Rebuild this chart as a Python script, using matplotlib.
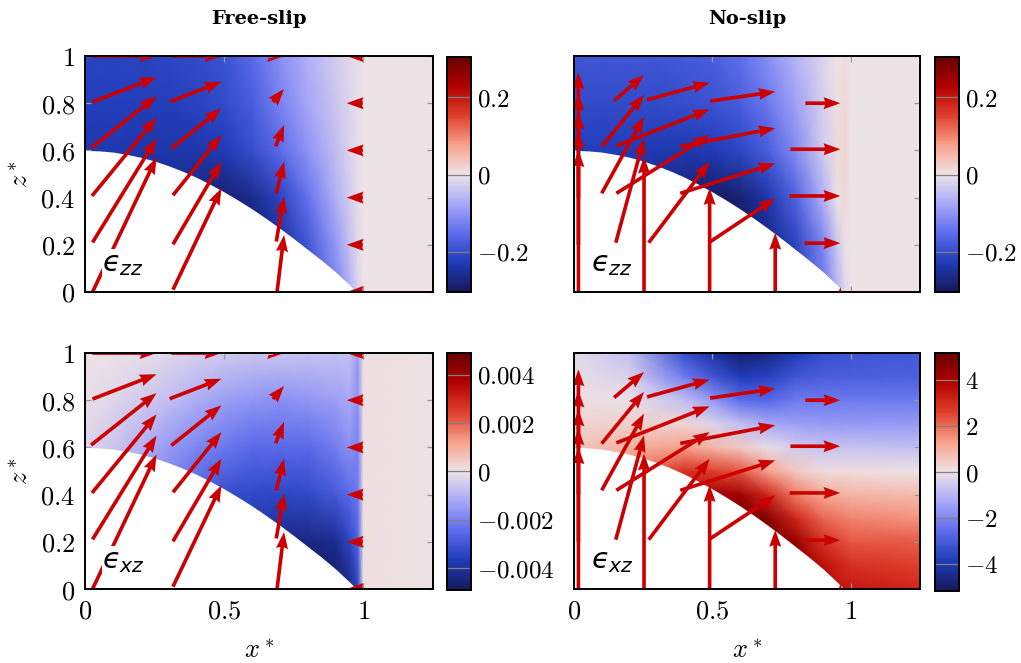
import numpy as np
import matplotlib.pyplot as plt
from matplotlib.colors import LinearSegmentedColormap

plt.rcParams['mathtext.fontset'] = 'cm'
plt.rcParams['font.family'] = 'DejaVu Serif'

# bed profile (white region below it)
bed_x = [0.0, 0.05, 0.1, 0.15, 0.2, 0.25, 0.3, 0.35, 0.4, 0.45, 0.5,
         0.55, 0.6, 0.65, 0.7, 0.75, 0.8, 0.85, 0.9, 0.95, 0.975]
bed_z = [0.600, 0.598, 0.593, 0.583, 0.571, 0.555, 0.535, 0.512, 0.486, 0.456, 0.424,
         0.389, 0.352, 0.312, 0.270, 0.226, 0.180, 0.134, 0.085, 0.030, 0.0]

# free-slip grid nodes (also used for no-slip ezz)
fs_x = [0, 0.1, 0.2, 0.3, 0.4, 0.5, 0.6, 0.7, 0.8, 0.9, 0.95, 0.98, 1.0, 1.25]
fs_z = [0, 0.2, 0.4, 0.6, 0.8, 1.0]

ezz_free = [
    [-.24, -.24, -.246, -.255, -.276, -.288, -.285, -.255, -.198, -.126, -.066, -.018, 0, 0],
    [-.24, -.24, -.246, -.255, -.276, -.288, -.285, -.255, -.186, -.096, -.045, -.012, 0, 0],
    [-.24, -.24, -.246, -.255, -.276, -.288, -.264, -.216, -.144, -.066, -.030, -.009, 0, 0],
    [-.234, -.234, -.24, -.24, -.24, -.228, -.198, -.156, -.102, -.048, -.021, -.006, 0, 0],
    [-.222, -.222, -.222, -.222, -.216, -.204, -.174, -.126, -.078, -.036, -.018, -.006, 0, 0],
    [-.216, -.216, -.216, -.21, -.204, -.192, -.156, -.108, -.066, -.030, -.015, -.006, 0, 0],
]

# in units of 1e-3
exz_free = [
    [-.5, -1.0, -1.5, -2.0, -2.7, -3.4, -3.9, -4.4, -4.75, -4.75, -4.4, -3.4, .1, 0],
    [-.5, -1.0, -1.5, -2.0, -2.7, -3.4, -3.9, -4.3, -4.4, -4.2, -3.4, -2.7, .1, 0],
    [-.5, -1.0, -1.5, -2.0, -2.7, -3.2, -3.3, -3.4, -3.3, -2.9, -2.5, -2.2, .1, 0],
    [-.3, -.6, -1.0, -1.5, -1.9, -2.2, -2.5, -2.5, -2.5, -2.1, -1.7, -2.0, .1, 0],
    [-.1, -.25, -.5, -.75, -1.1, -1.4, -1.6, -1.7, -1.6, -1.4, -1.2, -1.7, .1, 0],
    [0, 0, -.1, -.25, -.4, -.5, -.6, -.65, -.7, -.7, -.75, -1.5, .1, 0],
]

ezz_noslip = [
    [-.24, -.24, -.246, -.264, -.285, -.3, -.3, -.27, -.225, -.135, -.06, -.015, 0, 0],
    [-.24, -.24, -.246, -.264, -.285, -.3, -.3, -.27, -.216, -.12, -.036, 0, 0, 0],
    [-.24, -.24, -.246, -.264, -.285, -.3, -.285, -.24, -.168, -.066, 0, .012, 0, 0],
    [-.225, -.225, -.228, -.234, -.234, -.228, -.21, -.174, -.114, -.03, .009, .015, 0, 0],
    [-.204, -.204, -.204, -.204, -.198, -.192, -.174, -.138, -.084, -.024, .006, .012, 0, 0],
    [-.186, -.186, -.186, -.186, -.18, -.174, -.15, -.108, -.06, -.018, 0, .006, 0, 0],
]

ns_x = [0, 0.2, 0.4, 0.5, 0.6, 0.7, 0.8, 0.9, 1.0, 1.25]
ns_z = [0, 0.1, 0.2, 0.3, 0.4, 0.5, 0.6, 0.7, 0.8, 0.9, 1.0]
exz_noslip = [
    [.6, 1.6, 3.4, 4.2, 4.9, 4.9, 4.6, 3.6, 3.4, 3.1],
    [.6, 1.6, 3.4, 4.2, 4.9, 4.9, 4.6, 3.6, 2.9, 2.6],
    [.6, 1.6, 3.4, 4.2, 4.9, 4.9, 4.4, 2.9, 2.3, 2.2],
    [.6, 1.6, 3.4, 4.2, 4.9, 4.7, 3.1, 2.1, 1.7, 1.5],
    [.6, 1.6, 3.4, 4.2, 4.2, 3.1, 1.8, 1.1, .9, .8],
    [.6, 1.6, 2.9, 2.6, 2.3, 1.3, .5, .15, .15, 0],
    [.6, 1.0, 1.3, .9, .5, -.1, -.5, -.7, -.7, -.8],
    [.3, .4, .3, -.3, -.8, -1.3, -1.5, -1.6, -1.6, -1.6],
    [.1, -.05, -.8, -1.6, -2.6, -2.7, -2.3, -2.3, -2.3, -2.3],
    [-.1, -.4, -2.3, -3.2, -3.9, -3.7, -3.2, -3.0, -3.0, -2.9],
    [-.2, -.8, -3.4, -4.2, -4.9, -4.6, -3.9, -3.4, -3.2, -3.1],
]

# velocity arrows, positioned at the arrow tips
free_tip_x = [0.257] * 6 + [0.49] * 6 + [0.715] * 6 + [0.94] * 6
free_tip_z = [1.0, 0.91, 0.83, 0.74, 0.65, 0.57,
              1.0, 0.891, 0.778, 0.665, 0.552, 0.44,
              1.0, 0.86, 0.708, 0.552, 0.404, 0.242,
              1.0, 0.8, 0.6, 0.4, 0.2, 0.0]
free_u = [0.23, 0.23, 0.235, 0.232, 0.23, 0.23,
          0.18, 0.186, 0.18, 0.174, 0.174, 0.174,
          0.04, 0.04, 0.03, 0.028, 0.028, 0.025,
          -0.058, -0.058, -0.058, -0.058, -0.058, -0.058]
free_w = [0.0, 0.105, 0.22, 0.333, 0.44, 0.57,
          0.0, 0.085, 0.17, 0.255, 0.35, 0.43,
          0.0, 0.055, 0.09, 0.134, 0.19, 0.24,
          0.0, 0.0, 0.0, 0.0, 0.0, 0.0]

ns_tip_x = [0.016] * 5 + [0.253] * 5 + [0.49] * 5 + [0.727] * 5 + [0.962] * 5
ns_tip_z = [0.93, 0.84, 0.76, 0.68, 0.60,
            0.919, 0.835, 0.743, 0.651, 0.573,
            0.887, 0.774, 0.665, 0.552, 0.44,
            0.849, 0.694, 0.545, 0.397, 0.25,
            0.80, 0.605, 0.407, 0.207, 0.02]
ns_u = [0, 0, 0, 0, 0,
        0.108, 0.153, 0.153, 0.102, 0.0,
        0.226, 0.337, 0.337, 0.22, 0.0,
        0.235, 0.343, 0.343, 0.235, 0.0,
        0.126, 0.18, 0.183, 0.129, 0.0]
ns_w = [0.13, 0.24, 0.36, 0.48, 0.60,
        0.108, 0.219, 0.325, 0.442, 0.573,
        0.073, 0.155, 0.247, 0.343, 0.44,
        0.04, 0.077, 0.127, 0.184, 0.25,
        0.0, 0.0, 0.0, 0.0, 0.025]

xticks = [0, 0.5, 1]
xtick_labels = ['$0$', '$0.5$', '$1$']
zticks = [0, 0.2, 0.4, 0.6, 0.8, 1]
ztick_labels = ['$0$', '$0.2$', '$0.4$', '$0.6$', '$0.8$', '$1$']

cb_ticks_zz = [-0.2, 0, 0.2]
cb_labels_zz = ['$-0.2$', '$0$', '$0.2$']
cb_ticks_xz_free = [-0.004, -0.002, 0, 0.002, 0.004]
cb_labels_xz_free = ['$-0.004$', '$-0.002$', '$0$', '$0.002$', '$0.004$']
cb_ticks_xz_ns = [-4, -2, 0, 2, 4]
cb_labels_xz_ns = ['$-4$', '$-2$', '$0$', '$2$', '$4$']

cmap = LinearSegmentedColormap.from_list('bwr_ext', [
    '#16195a', '#1f3bb8', '#5c6cec', '#a8a8f8', '#ede3e7',
    '#f8a28c', '#e0402c', '#b40000', '#680000'])

W, H = 1021, 663
fig = plt.figure(figsize=(W / 100, H / 100), dpi=100)


def fig_rect(x0, y0, x1, y1):
    return [x0 / W, 1 - y1 / H, (x1 - x0) / W, (y1 - y0) / H]


panels = [
    # ax rect, cbar rect, grid x, grid z, field, vmax, arrows, ticks, labels, name
    (fig_rect(85, 56, 433, 292), fig_rect(447, 57, 471, 292), fs_x, fs_z,
     np.array(ezz_free), 0.305, 'free', cb_ticks_zz, cb_labels_zz, '$ϵ_{zz}$'),
    (fig_rect(574, 56, 920, 292), fig_rect(935, 57, 959, 292), fs_x, fs_z,
     np.array(ezz_noslip), 0.305, 'ns', cb_ticks_zz, cb_labels_zz, '$ϵ_{zz}$'),
    (fig_rect(85, 353, 433, 589), fig_rect(447, 353, 471, 590), fs_x, fs_z,
     np.array(exz_free) * 1e-3, 0.0049, 'free', cb_ticks_xz_free, cb_labels_xz_free, '$ϵ_{xz}$'),
    (fig_rect(574, 353, 920, 589), fig_rect(935, 353, 959, 591), ns_x, ns_z,
     np.array(exz_noslip), 5.2, 'ns', cb_ticks_xz_ns, cb_labels_xz_ns, '$ϵ_{xz}$'),
]

for i, (rect, crect, gx, gz, field, vmax, arrows, cticks, clabels, name) in enumerate(panels):
    ax = fig.add_axes(rect)
    GX, GZ = np.meshgrid(gx, gz)
    mesh = ax.pcolormesh(GX, GZ, field, shading='gouraud', cmap=cmap,
                         vmin=-vmax, vmax=vmax, zorder=1)
    ax.fill_between(bed_x, 0, bed_z, color='white', lw=0, zorder=2)

    if arrows == 'free':
        qx, qz, qu, qw = free_tip_x, free_tip_z, free_u, free_w
    else:
        qx, qz, qu, qw = ns_tip_x, ns_tip_z, ns_u, ns_w
    ax.quiver(qx, qz, qu, qw, angles='xy', scale_units='xy', scale=1,
              pivot='tip', color='#cc0000', width=0.0105, headwidth=3.3,
              headlength=4.6, headaxislength=4.2, minshaft=0.5, zorder=3)

    ax.text(0.062, 0.088, name, fontsize=21, math_fontfamily='dejavusans',
            ha='left', va='baseline', zorder=4,
            bbox=dict(facecolor='white', edgecolor='none', pad=0.5))

    ax.set_xlim(0, 1.25)
    ax.set_ylim(0, 1)
    ax.set_xticks(xticks)
    ax.set_yticks(zticks)
    ax.set_xticklabels(xtick_labels)
    ax.set_yticklabels(ztick_labels)
    ax.tick_params(direction='in', top=True, right=True, color='0.6',
                   length=4.5, width=0.9, labelsize=19, pad=7)
    for sp in ax.spines.values():
        sp.set_linewidth(1.4)
        sp.set_zorder(5)
    if i < 2:
        ax.tick_params(labelbottom=False)
        ax.set_title(['Free-slip', 'No-slip'][i], fontsize=14,
                     fontweight='bold', pad=23)
    else:
        ax.set_xlabel('$x^*$', fontsize=19, labelpad=10)
    if i % 2 == 1:
        ax.tick_params(labelleft=False)
    else:
        ax.set_ylabel('$z^*$', fontsize=19, labelpad=5)

    cax = fig.add_axes(crect)
    cb = fig.colorbar(mesh, cax=cax, ticks=cticks)
    cb.ax.set_yticklabels(clabels)
    cb.outline.set_linewidth(1.4)
    cb.ax.tick_params(direction='in', length=17, width=0.9, color='0.5',
                      labelsize=18, pad=4)

fig.savefig('out.png', dpi=100)
